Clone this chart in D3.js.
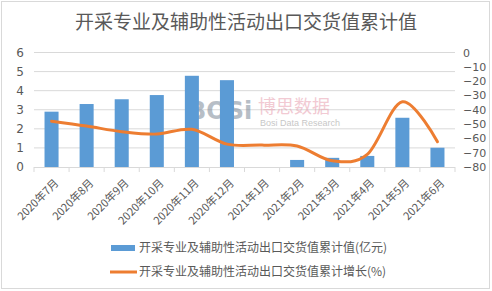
<!DOCTYPE html>
<html><head><meta charset="utf-8">
<script src="https://cdn.jsdelivr.net/npm/d3@7"></script>
<style>body{margin:0;background:#fff}svg{display:block}</style>
</head><body>
<svg id="c" width="492" height="291"></svg>
<script>
const title = "开采专业及辅助性活动出口交货值累计值";
const categories = ["2020年7月","2020年8月","2020年9月","2020年10月","2020年11月","2020年12月","2021年1月","2021年2月","2021年3月","2021年4月","2021年5月","2021年6月"];
const values = [2.9, 3.3, 3.55, 3.77, 4.78, 4.55, null, 0.37, 0.48, 0.58, 2.58, 1.01];
const growth = [-48, -51.4, -55.3, -57, -53.7, -64, -64.7, -65.3, -75.6, -71.2, -34.4, -62.3];
const leftTicks = [0,1,2,3,4,5,6];
const rightTicks = [0,-10,-20,-30,-40,-50,-60,-70,-80];
const seriesNames = ["开采专业及辅助性活动出口交货值累计值(亿元)","开采专业及辅助性活动出口交货值累计增长(%)"];

const svg = d3.select("#c");
const m = {l:34, r:455, t:52.5, b:167};
const grey = "#595959";
const cjk = '"Noto Sans CJK SC", sans-serif';
const numFont = '"DejaVu Sans", sans-serif';

svg.append("rect").attr("x",1.5).attr("y",1.5).attr("width",488).attr("height",287)
  .attr("fill","#fff").attr("stroke","#d9d9d9");

svg.append("text").attr("x",246).attr("y",29).attr("text-anchor","middle").style("font-family",cjk)
  .attr("font-size",19).attr("fill",grey).text(title);

const x = d3.scaleBand().domain(categories).range([m.l, m.r]).paddingInner(0.6).paddingOuter(0.3);
const xc = d3.scalePoint().domain(categories).range([m.l, m.r]).padding(0.5);
const yL = d3.scaleLinear().domain([0,6]).range([m.b, m.t]);
const yR = d3.scaleLinear().domain([-80,0]).range([m.b, m.t]);

// gridlines
svg.append("g").selectAll("line").data(leftTicks.filter(d=>d>0)).join("line")
  .attr("x1",m.l).attr("x2",m.r).attr("y1",d=>yL(d)).attr("y2",d=>yL(d))
  .attr("stroke","#d9d9d9").attr("stroke-width",1);

// left axis
const gl = svg.append("g").attr("transform",`translate(${m.l},0)`)
  .call(d3.axisLeft(yL).tickValues(leftTicks).tickFormat(d3.format("d")).tickSize(0).tickPadding(10));
gl.select(".domain").remove();
gl.selectAll("text").attr("font-size",12).style("font-family",numFont).attr("fill",grey);

// right axis
const gr = svg.append("g").attr("transform",`translate(${m.r},0)`)
  .call(d3.axisRight(yR).tickValues(rightTicks).tickFormat(d3.format("d")).tickSize(0).tickPadding(8));
gr.select(".domain").remove();
gr.selectAll("text").attr("font-size",11).style("font-family",numFont).attr("fill",grey);

// watermark
const wm = svg.append("g").attr("opacity",0.55);
wm.append("text").attr("x",188).attr("y",119).attr("font-size",24).attr("font-weight","bold")
  .style("font-family",numFont).attr("fill","#7d8a99").text("BOSi");
wm.append("text").attr("x",258).attr("y",113).attr("font-size",18).style("font-family",cjk).attr("fill","#e8a0b0").text("博思数据");
wm.append("text").attr("x",260).attr("y",126).attr("font-size",9).style("font-family",'"Liberation Sans", sans-serif').attr("fill","#999").text("Bosi Data Research");

// bars
svg.append("g").selectAll("rect").data(categories.map((c,i)=>({c,v:values[i]})).filter(d=>d.v!=null)).join("rect")
  .attr("x",d=>x(d.c)).attr("width",x.bandwidth())
  .attr("y",d=>yL(d.v)).attr("height",d=>yL(0)-yL(d.v)).attr("fill","#5b9bd5");

// x axis
const step = (m.r-m.l)/categories.length;
svg.append("line").attr("x1",m.l).attr("x2",m.r).attr("y1",m.b+0.5).attr("y2",m.b+0.5).attr("stroke","#d9d9d9");
svg.append("g").selectAll("line").data(d3.range(categories.length+1)).join("line")
  .attr("x1",i=>m.l+i*step).attr("x2",i=>m.l+i*step).attr("y1",m.b).attr("y2",m.b+5).attr("stroke","#d9d9d9");
svg.append("g").selectAll("text").data(categories).join("text")
  .attr("transform",d=>`translate(${xc(d)+5},${m.b+14}) rotate(-45)`)
  .attr("text-anchor","end").attr("dy","0.35em").attr("font-size",11).style("font-family",cjk).attr("fill",grey).text(d=>d);

// line
const line = d3.line().x((d,i)=>xc(categories[i])).y(d=>yR(d)).curve(d3.curveCatmullRom.alpha(0));
svg.append("path").datum(growth).attr("d",line).attr("fill","none")
  .attr("stroke","#ed7d31").attr("stroke-width",3).attr("stroke-linejoin","round").attr("stroke-linecap","round");

// legend
svg.append("rect").attr("x",111).attr("y",245).attr("width",24).attr("height",6).attr("fill","#5b9bd5");
svg.append("text").attr("x",139).attr("y",248).attr("dy","0.35em").attr("font-size",12).style("font-family",cjk).attr("fill",grey).text(seriesNames[0]);
svg.append("line").attr("x1",110).attr("x2",137).attr("y1",272).attr("y2",272).attr("stroke","#ed7d31").attr("stroke-width",3);
svg.append("text").attr("x",139).attr("y",272).attr("dy","0.35em").attr("font-size",12).style("font-family",cjk).attr("fill",grey).text(seriesNames[1]);
</script>
</body></html>
